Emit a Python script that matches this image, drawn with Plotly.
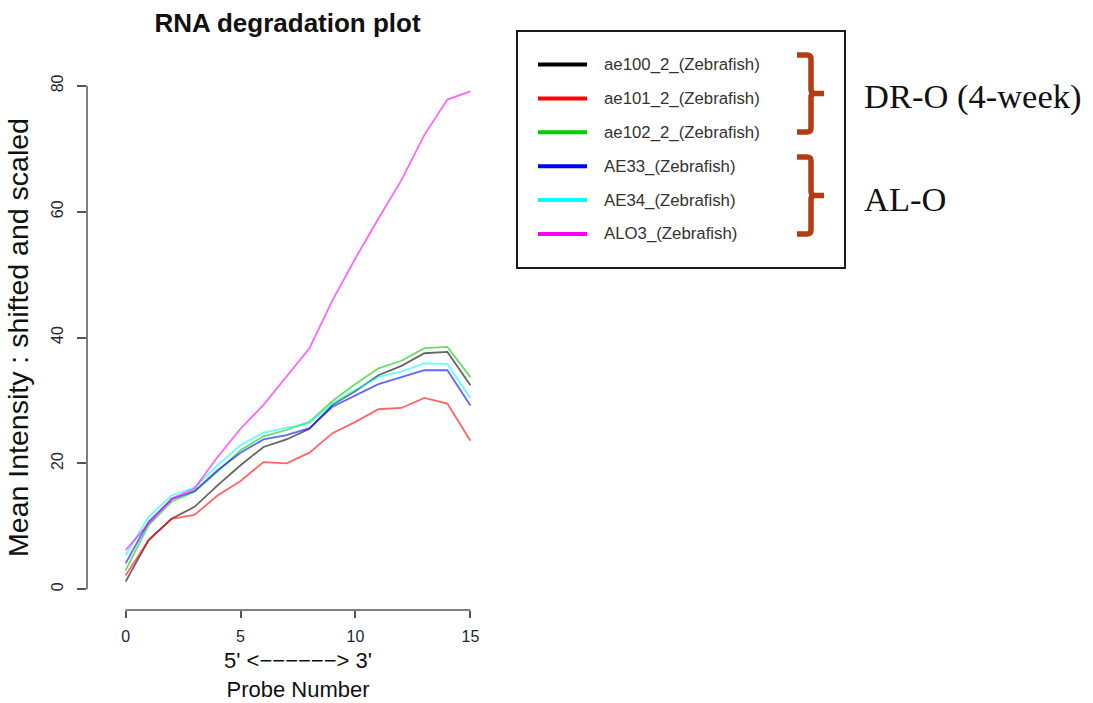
import plotly.graph_objects as go

# ---------------- data ----------------
probe_number = list(range(16))
series_names = ["ae100_2_(Zebrafish)", "ae101_2_(Zebrafish)", "ae102_2_(Zebrafish)",
                "AE33_(Zebrafish)", "AE34_(Zebrafish)", "ALO3_(Zebrafish)"]
ae100_2 = [1.2, 7.8, 11.2, 13.1, 16.5, 19.7, 22.6, 23.8, 25.5, 29.3, 31.5, 34.0, 35.5, 37.5, 37.7, 32.4]
ae101_2 = [2.2, 7.8, 11.2, 11.8, 14.9, 17.2, 20.2, 20.0, 21.7, 24.8, 26.6, 28.6, 28.8, 30.4, 29.5, 23.6]
ae102_2 = [3.0, 10.2, 13.9, 15.5, 18.7, 22.1, 24.3, 25.3, 26.6, 29.9, 32.6, 35.1, 36.3, 38.3, 38.5, 33.7]
AE33 = [4.1, 10.7, 14.3, 15.6, 18.9, 21.7, 23.8, 24.5, 25.6, 29.0, 30.8, 32.6, 33.7, 34.8, 34.8, 29.2]
AE34 = [5.4, 11.5, 14.9, 16.2, 19.7, 22.9, 24.9, 25.6, 26.4, 29.5, 31.7, 33.7, 34.6, 35.9, 35.8, 30.4]
ALO3 = [6.2, 10.4, 14.4, 16.0, 21.0, 25.5, 29.3, 33.8, 38.3, 45.9, 52.6, 58.9, 65.0, 72.2, 77.8, 79.1]
series_values = [ae100_2, ae101_2, ae102_2, AE33, AE34, ALO3]
series_colors = ["#000000", "#FF0000", "#00CD00", "#0000FF", "#00FFFF", "#FF00FF"]
x_ticks = [0, 5, 10, 15]
y_ticks = [0, 20, 40, 60, 80]
group_labels = ["DR-O (4-week)", "AL-O"]

# ---------------- layout geometry ----------------
W, H = 1093, 703
L, R, T, B = 87, 584, 65, 93
PW, PH = W - L - R, H - T - B


def pxx(px):
    return (px - L) / PW


def pxy(py):
    return (H - B - py) / PH


FONT = "Liberation Sans, Arial, sans-serif"

fig = go.Figure()
for name, vals, col in zip(series_names, series_values, series_colors):
    fig.add_trace(go.Scatter(x=probe_number, y=vals, mode="lines", name=name,
                             line=dict(color=col, width=1.8), opacity=0.6,
                             showlegend=False))

shapes = []
# R-style axis lines spanning only the tick range
shapes.append(dict(type="line", xref="paper", yref="y", x0=0, x1=0,
                   y0=y_ticks[0], y1=y_ticks[-1], line=dict(color="#555", width=1.5)))
shapes.append(dict(type="line", xref="x", yref="paper", x0=x_ticks[0], x1=x_ticks[-1],
                   y0=0, y1=0, line=dict(color="#555", width=1.5)))

# custom legend box
shapes.append(dict(type="rect", xref="paper", yref="paper",
                   x0=pxx(517), x1=pxx(845), y0=pxy(31), y1=pxy(268),
                   line=dict(color="#1a1a1a", width=2), fillcolor="rgba(0,0,0,0)"))
annotations = []
row0, row_step = 64.5, 33.9
for i, (name, col) in enumerate(zip(series_names, series_colors)):
    yc = row0 + i * row_step
    shapes.append(dict(type="line", xref="paper", yref="paper",
                       x0=pxx(538), x1=pxx(587), y0=pxy(yc), y1=pxy(yc),
                       line=dict(color=col, width=4)))
    annotations.append(dict(xref="paper", yref="paper", x=pxx(602), y=pxy(yc),
                            xanchor="left", yanchor="middle", showarrow=False,
                            text=name, font=dict(family=FONT, size=16.8, color="#333")))

# group brackets
BR = "#b33c12"


def bracket(top, bot):
    mid = (top + bot) / 2
    xl, xv, xp, r = 797, 811, 824, 4
    pts = (f"M {pxx(xl)},{pxy(top)} L {pxx(xv - r)},{pxy(top)} "
           f"Q {pxx(xv)},{pxy(top)} {pxx(xv)},{pxy(top + r)} "
           f"L {pxx(xv)},{pxy(mid - r)} Q {pxx(xv)},{pxy(mid)} {pxx(xv + r)},{pxy(mid)} "
           f"L {pxx(xp)},{pxy(mid)} M {pxx(xv + r)},{pxy(mid)} "
           f"Q {pxx(xv)},{pxy(mid)} {pxx(xv)},{pxy(mid + r)} "
           f"L {pxx(xv)},{pxy(bot - r)} Q {pxx(xv)},{pxy(bot)} {pxx(xv - r)},{pxy(bot)} "
           f"L {pxx(xl)},{pxy(bot)}")
    return dict(type="path", xref="paper", yref="paper", path=pts,
                line=dict(color=BR, width=5.5))


for (top, bot), lab in zip([(55, 132), (157, 234)], group_labels):
    shapes.append(bracket(top, bot))
    annotations.append(dict(xref="paper", yref="paper", x=pxx(862), y=pxy((top + bot) / 2 + 3),
                            xanchor="left", yanchor="middle", showarrow=False, text=lab,
                            font=dict(family="Liberation Serif, Times New Roman, serif",
                                      size=34.5, color="#111")))

fig.update_layout(
    width=W, height=H,
    margin=dict(l=L, r=R, t=T, b=B, autoexpand=False),
    paper_bgcolor="white", plot_bgcolor="white",
    title=dict(text="<b>RNA degradation plot</b>", xref="paper", x=pxx(287.5),
               xanchor="center", yref="container", y=1 - 23 / H, yanchor="middle",
               font=dict(family=FONT, size=26, color="#111")),
    xaxis=dict(range=[-1.68, 16.68], tickvals=x_ticks, ticks="outside", ticklen=7,
               tickwidth=1.5, tickcolor="#555", showgrid=False, zeroline=False,
               showline=False, tickfont=dict(family=FONT, size=16, color="#1e2535"),
               ticklabelstandoff=5,
               title=dict(text="5' <\u2212\u2212\u2212\u2212\u2212\u2212> 3'<br>Probe Number",
                          font=dict(family=FONT, size=22, color="#111"), standoff=8)),
    yaxis=dict(range=[-3.3, 83.3], tickvals=y_ticks, ticks="outside", ticklen=9,
               tickwidth=1.5, tickcolor="#555", showgrid=False, zeroline=False,
               showline=False, tickangle=-90, ticklabelstandoff=8,
               tickfont=dict(family=FONT, size=16, color="#1e2535"),
               title=dict(text="Mean Intensity : shifted and scaled",
                          font=dict(family=FONT, size=28.5, color="#111"), standoff=11)),
    shapes=shapes, annotations=annotations,
)

fig.write_html("out.html")
